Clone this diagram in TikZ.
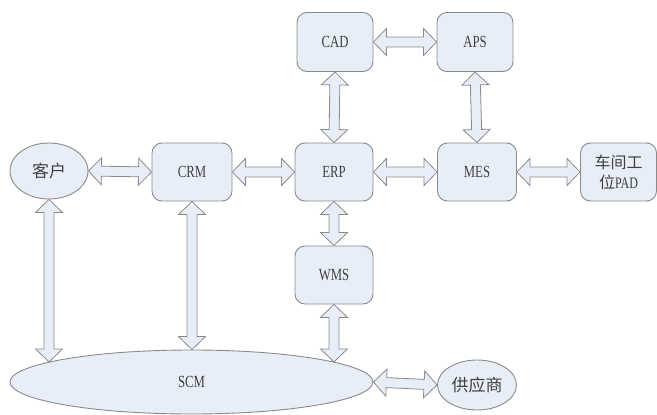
\documentclass[tikz,border=0pt]{standalone}
\usepackage{fontspec}
\setmainfont{Liberation Serif}[FakeStretch=0.75]
\newfontfamily\cjk{Noto Sans CJK SC}
\usetikzlibrary{calc,shapes.geometric}
\definecolor{boxfill}{HTML}{E8EEF8}
\definecolor{boxline}{HTML}{8A8A8A}
\definecolor{txt}{HTML}{404040}
\newcommand\dbl[2]{%
  \coordinate (h1) at ($(#1)!13pt!(#2)$);
  \coordinate (h2) at ($(#2)!13pt!(#1)$);
  \draw[arr] (#1) -- ($(h1)!13.5pt!90:(#2)$) -- ($(h1)!5pt!90:(#2)$)
    -- ($(h2)!5pt!-90:(#1)$) -- ($(h2)!13.5pt!-90:(#1)$) -- (#2)
    -- ($(h2)!13.5pt!90:(#1)$) -- ($(h2)!5pt!90:(#1)$)
    -- ($(h1)!5pt!-90:(#2)$) -- ($(h1)!13.5pt!-90:(#2)$) -- cycle;}
\tikzset{
  base/.style={draw=boxline, fill=boxfill, line width=0.9pt, text=txt, inner sep=0pt, align=center, font=\fontsize{17}{19}\selectfont},
  box/.style={base, rectangle, rounded corners=10pt, minimum width=78pt, minimum height=58pt},
  oval/.style={base, ellipse},
  arr/.style={draw=boxline, fill=boxfill, line width=0.8pt, line join=miter},
}
\begin{document}
\begin{tikzpicture}[x=1pt,y=-1pt]
\useasboundingbox (0,0) rectangle (657,415);
\node[oval, minimum width=78pt, minimum height=56pt] (kh) at (49,171) {\cjk 客户};
\node[box, minimum width=80pt] (crm) at (192,172) {CRM};
\node[box] (erp) at (334,172) {ERP};
\node[box, minimum width=79pt] (mes) at (477,172) {MES};
\node[box, minimum width=76pt, font=\fontsize{16}{20}\selectfont] (pad) at (618.5,172) {{\cjk 车间工}\\{\cjk 位}PAD};
\node[box, minimum width=76pt, minimum height=59pt] (cad) at (335,42) {CAD};
\node[box, minimum width=76pt, minimum height=59pt] (aps) at (475,42) {APS};
\node[box] (wms) at (334,275) {WMS};
\node[oval, minimum width=363pt, minimum height=64pt] (scm) at (191.5,382) {SCM};
\node[oval, minimum width=79pt, minimum height=50pt] (gys) at (477,385) {\cjk 供应商};
\coordinate (kh-scm) at (kh.south |- scm.172);
\coordinate (crm-scm) at (crm.south |- scm.north);
\coordinate (wms-scm) at (wms.south |- scm.8);
\dbl{kh.east}{crm.west}
\dbl{crm.east}{erp.west}
\dbl{erp.east}{mes.west}
\dbl{mes.east}{pad.west}
\dbl{cad.east}{aps.west}
\dbl{cad.south}{erp.north}
\dbl{aps.south}{mes.north}
\dbl{erp.south}{wms.north}
\dbl{kh.south}{kh-scm}
\dbl{crm.south}{crm-scm}
\dbl{wms.south}{wms-scm}
\dbl{scm.east}{gys.west}
\end{tikzpicture}
\end{document}
